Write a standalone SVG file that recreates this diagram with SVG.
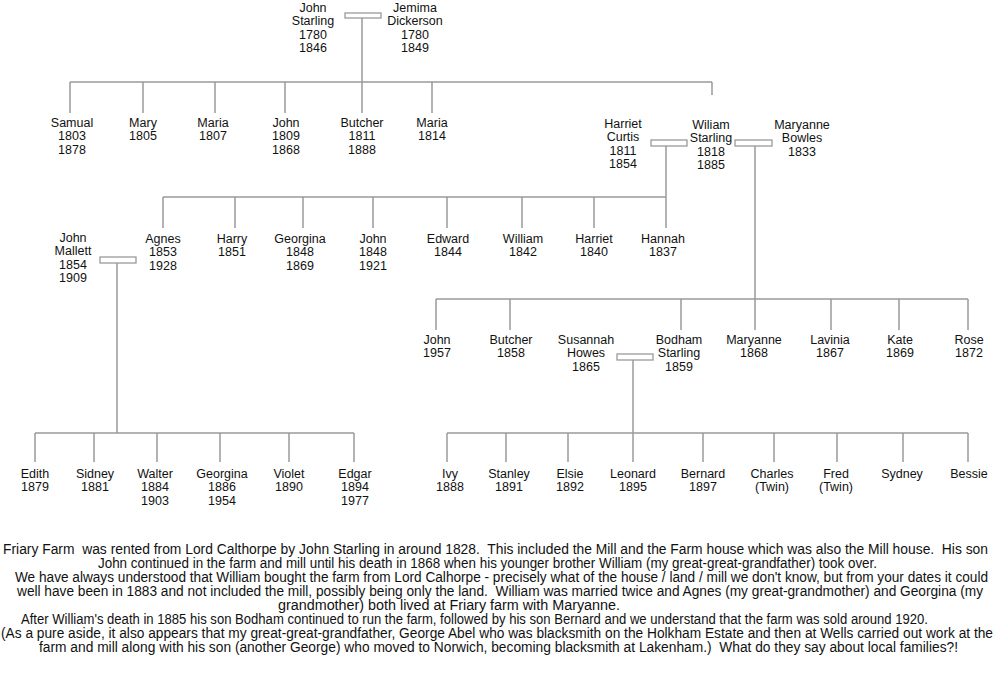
<svg xmlns="http://www.w3.org/2000/svg" width="1000" height="673" viewBox="0 0 1000 673">
<style>
.n{font-family:"Liberation Sans",Arial,sans-serif;font-size:12.5px;fill:#111;text-anchor:middle}
.p{font-family:"Liberation Sans",Arial,sans-serif;font-size:13.8px;fill:#111;white-space:pre}
.c line{stroke:#9a9a9a;stroke-width:1.5;fill:none}
.c rect{stroke:#9a9a9a;stroke-width:1.3;fill:#fff}
</style>
<rect width="1000" height="673" fill="#fff"/>
<g id="connectors" class="c">
<rect x="345" y="13" width="36" height="5"/>
<line x1="362" y1="18" x2="362" y2="82"/>
<line x1="70" y1="82" x2="712" y2="82"/>
<line x1="70" y1="82" x2="70" y2="113"/>
<line x1="143" y1="82" x2="143" y2="113"/>
<line x1="215" y1="82" x2="215" y2="113"/>
<line x1="285" y1="82" x2="285" y2="113"/>
<line x1="362" y1="82" x2="362" y2="113"/>
<line x1="432" y1="82" x2="432" y2="113"/>
<line x1="712" y1="82" x2="712" y2="95"/>
<rect x="651" y="140" width="36" height="6"/>
<rect x="735" y="140" width="37" height="6"/>
<line x1="666" y1="146" x2="666" y2="228"/>
<line x1="163" y1="197" x2="666" y2="197"/>
<line x1="163" y1="197" x2="163" y2="228"/>
<line x1="235" y1="197" x2="235" y2="228"/>
<line x1="303" y1="197" x2="303" y2="228"/>
<line x1="373" y1="197" x2="373" y2="228"/>
<line x1="447" y1="197" x2="447" y2="228"/>
<line x1="522" y1="197" x2="522" y2="228"/>
<line x1="594" y1="197" x2="594" y2="228"/>
<line x1="755" y1="146" x2="755" y2="330"/>
<line x1="436" y1="299" x2="968" y2="299"/>
<line x1="436" y1="299" x2="436" y2="330"/>
<line x1="510" y1="299" x2="510" y2="330"/>
<line x1="681" y1="299" x2="681" y2="330"/>
<line x1="831" y1="299" x2="831" y2="330"/>
<line x1="899" y1="299" x2="899" y2="330"/>
<line x1="968" y1="299" x2="968" y2="330"/>
<rect x="100" y="257" width="36" height="6"/>
<line x1="117" y1="263" x2="117" y2="433"/>
<line x1="35" y1="433" x2="354" y2="433"/>
<line x1="35" y1="433" x2="35" y2="462"/>
<line x1="94" y1="433" x2="94" y2="462"/>
<line x1="157" y1="433" x2="157" y2="462"/>
<line x1="220" y1="433" x2="220" y2="462"/>
<line x1="289" y1="433" x2="289" y2="462"/>
<line x1="354" y1="433" x2="354" y2="462"/>
<rect x="617" y="354" width="36" height="6"/>
<line x1="633" y1="360" x2="633" y2="462"/>
<line x1="447" y1="433" x2="968" y2="433"/>
<line x1="447" y1="433" x2="447" y2="462"/>
<line x1="506" y1="433" x2="506" y2="462"/>
<line x1="568" y1="433" x2="568" y2="462"/>
<line x1="703" y1="433" x2="703" y2="462"/>
<line x1="774" y1="433" x2="774" y2="462"/>
<line x1="837" y1="433" x2="837" y2="462"/>
<line x1="903" y1="433" x2="903" y2="462"/>
<line x1="968" y1="433" x2="968" y2="462"/>
</g>
<g id="john-starling-1780"><text class="n" x="313" y="11.5">John<tspan x="313" dy="13.6">Starling</tspan><tspan x="313" dy="13.6">1780</tspan><tspan x="313" dy="13.6">1846</tspan></text></g>
<g id="jemima-dickerson"><text class="n" x="415" y="11.5">Jemima<tspan x="415" dy="13.6">Dickerson</tspan><tspan x="415" dy="13.6">1780</tspan><tspan x="415" dy="13.6">1849</tspan></text></g>
<g id="samual"><text class="n" x="72" y="126.5">Samual<tspan x="72" dy="13.6">1803</tspan><tspan x="72" dy="13.6">1878</tspan></text></g>
<g id="mary"><text class="n" x="143" y="126.5">Mary<tspan x="143" dy="13.6">1805</tspan></text></g>
<g id="maria-1807"><text class="n" x="213" y="126.5">Maria<tspan x="213" dy="13.6">1807</tspan></text></g>
<g id="john-1809"><text class="n" x="286" y="126.5">John<tspan x="286" dy="13.6">1809</tspan><tspan x="286" dy="13.6">1868</tspan></text></g>
<g id="butcher-1811"><text class="n" x="362" y="126.5">Butcher<tspan x="362" dy="13.6">1811</tspan><tspan x="362" dy="13.6">1888</tspan></text></g>
<g id="maria-1814"><text class="n" x="432" y="126.5">Maria<tspan x="432" dy="13.6">1814</tspan></text></g>
<g id="harriet-curtis"><text class="n" x="623" y="127.5">Harriet<tspan x="623" dy="13.6">Curtis</tspan><tspan x="623" dy="13.6">1811</tspan><tspan x="623" dy="13.6">1854</tspan></text></g>
<g id="william-starling"><text class="n" x="711" y="128.5">Wiliam<tspan x="711" dy="13.6">Starling</tspan><tspan x="711" dy="13.6">1818</tspan><tspan x="711" dy="13.6">1885</tspan></text></g>
<g id="maryanne-bowles"><text class="n" x="802" y="128.5">Maryanne<tspan x="802" dy="13.6">Bowles</tspan><tspan x="802" dy="13.6">1833</tspan></text></g>
<g id="john-mallett"><text class="n" x="73" y="241.5">John<tspan x="73" dy="13.6">Mallett</tspan><tspan x="73" dy="13.6">1854</tspan><tspan x="73" dy="13.6">1909</tspan></text></g>
<g id="agnes"><text class="n" x="163" y="242.5">Agnes<tspan x="163" dy="13.6">1853</tspan><tspan x="163" dy="13.6">1928</tspan></text></g>
<g id="harry"><text class="n" x="232" y="242.5">Harry<tspan x="232" dy="13.6">1851</tspan></text></g>
<g id="georgina-1848"><text class="n" x="300" y="242.5">Georgina<tspan x="300" dy="13.6">1848</tspan><tspan x="300" dy="13.6">1869</tspan></text></g>
<g id="john-1848"><text class="n" x="373" y="242.5">John<tspan x="373" dy="13.6">1848</tspan><tspan x="373" dy="13.6">1921</tspan></text></g>
<g id="edward"><text class="n" x="448" y="242.5">Edward<tspan x="448" dy="13.6">1844</tspan></text></g>
<g id="william-1842"><text class="n" x="523" y="242.5">William<tspan x="523" dy="13.6">1842</tspan></text></g>
<g id="harriet-1840"><text class="n" x="594" y="242.5">Harriet<tspan x="594" dy="13.6">1840</tspan></text></g>
<g id="hannah"><text class="n" x="663" y="242.5">Hannah<tspan x="663" dy="13.6">1837</tspan></text></g>
<g id="john-1957"><text class="n" x="437" y="343.5">John<tspan x="437" dy="13.6">1957</tspan></text></g>
<g id="butcher-1858"><text class="n" x="511" y="343.5">Butcher<tspan x="511" dy="13.6">1858</tspan></text></g>
<g id="susannah-howes"><text class="n" x="586" y="343.5">Susannah<tspan x="586" dy="13.6">Howes</tspan><tspan x="586" dy="13.6">1865</tspan></text></g>
<g id="bodham-starling"><text class="n" x="679" y="343.5">Bodham<tspan x="679" dy="13.6">Starling</tspan><tspan x="679" dy="13.6">1859</tspan></text></g>
<g id="maryanne-1868"><text class="n" x="754" y="343.5">Maryanne<tspan x="754" dy="13.6">1868</tspan></text></g>
<g id="lavinia"><text class="n" x="830" y="343.5">Lavinia<tspan x="830" dy="13.6">1867</tspan></text></g>
<g id="kate"><text class="n" x="900" y="343.5">Kate<tspan x="900" dy="13.6">1869</tspan></text></g>
<g id="rose"><text class="n" x="969" y="343.5">Rose<tspan x="969" dy="13.6">1872</tspan></text></g>
<g id="edith"><text class="n" x="35" y="477.5">Edith<tspan x="35" dy="13.6">1879</tspan></text></g>
<g id="sidney"><text class="n" x="95" y="477.5">Sidney<tspan x="95" dy="13.6">1881</tspan></text></g>
<g id="walter"><text class="n" x="155" y="477.5">Walter<tspan x="155" dy="13.6">1884</tspan><tspan x="155" dy="13.6">1903</tspan></text></g>
<g id="georgina-1886"><text class="n" x="222" y="477.5">Georgina<tspan x="222" dy="13.6">1886</tspan><tspan x="222" dy="13.6">1954</tspan></text></g>
<g id="violet"><text class="n" x="289" y="477.5">Violet<tspan x="289" dy="13.6">1890</tspan></text></g>
<g id="edgar"><text class="n" x="355" y="477.5">Edgar<tspan x="355" dy="13.6">1894</tspan><tspan x="355" dy="13.6">1977</tspan></text></g>
<g id="ivy"><text class="n" x="450" y="477.5">Ivy<tspan x="450" dy="13.6">1888</tspan></text></g>
<g id="stanley"><text class="n" x="509" y="477.5">Stanley<tspan x="509" dy="13.6">1891</tspan></text></g>
<g id="elsie"><text class="n" x="570" y="477.5">Elsie<tspan x="570" dy="13.6">1892</tspan></text></g>
<g id="leonard"><text class="n" x="633" y="477.5">Leonard<tspan x="633" dy="13.6">1895</tspan></text></g>
<g id="bernard"><text class="n" x="703" y="477.5">Bernard<tspan x="703" dy="13.6">1897</tspan></text></g>
<g id="charles"><text class="n" x="772" y="477.5">Charles<tspan x="772" dy="13.6">(Twin)</tspan></text></g>
<g id="fred"><text class="n" x="836" y="477.5">Fred<tspan x="836" dy="13.6">(Twin)</tspan></text></g>
<g id="sydney"><text class="n" x="902" y="477.5">Sydney</text></g>
<g id="bessie"><text class="n" x="969" y="477.5">Bessie</text></g>
<g id="notes">
<text class="p" x="3" y="554" textLength="985" lengthAdjust="spacingAndGlyphs">Friary Farm  was rented from Lord Calthorpe by John Starling in around 1828.  This included the Mill and the Farm house which was also the Mill house.  His son</text>
<text class="p" x="98" y="568" textLength="779" lengthAdjust="spacingAndGlyphs">John continued in the farm and mill until his death in 1868 when his younger brother William (my great-great-grandfather) took over.</text>
<text class="p" x="15" y="582" textLength="973" lengthAdjust="spacingAndGlyphs">We have always understood that William bought the farm from Lord Calhorpe - precisely what of the house / land / mill we don't know, but from your dates it could</text>
<text class="p" x="17" y="596" textLength="966" lengthAdjust="spacingAndGlyphs">well have been in 1883 and not included the mill, possibly being only the land.  William was married twice and Agnes (my great-grandmother) and Georgina (my</text>
<text class="p" x="278" y="610" textLength="342" lengthAdjust="spacingAndGlyphs">grandmother) both lived at Friary farm with Maryanne.</text>
<text class="p" x="21" y="624" textLength="907" lengthAdjust="spacingAndGlyphs">After William's death in 1885 his son Bodham continued to run the farm, followed by his son Bernard and we understand that the farm was sold around 1920.</text>
<text class="p" x="1" y="638" textLength="992" lengthAdjust="spacingAndGlyphs">(As a pure aside, it also appears that my great-great-grandfather, George Abel who was blacksmith on the Holkham Estate and then at Wells carried out work at the</text>
<text class="p" x="39" y="652" textLength="919" lengthAdjust="spacingAndGlyphs">farm and mill along with his son (another George) who moved to Norwich, becoming blacksmith at Lakenham.)  What do they say about local families?!</text>
</g>
</svg>
